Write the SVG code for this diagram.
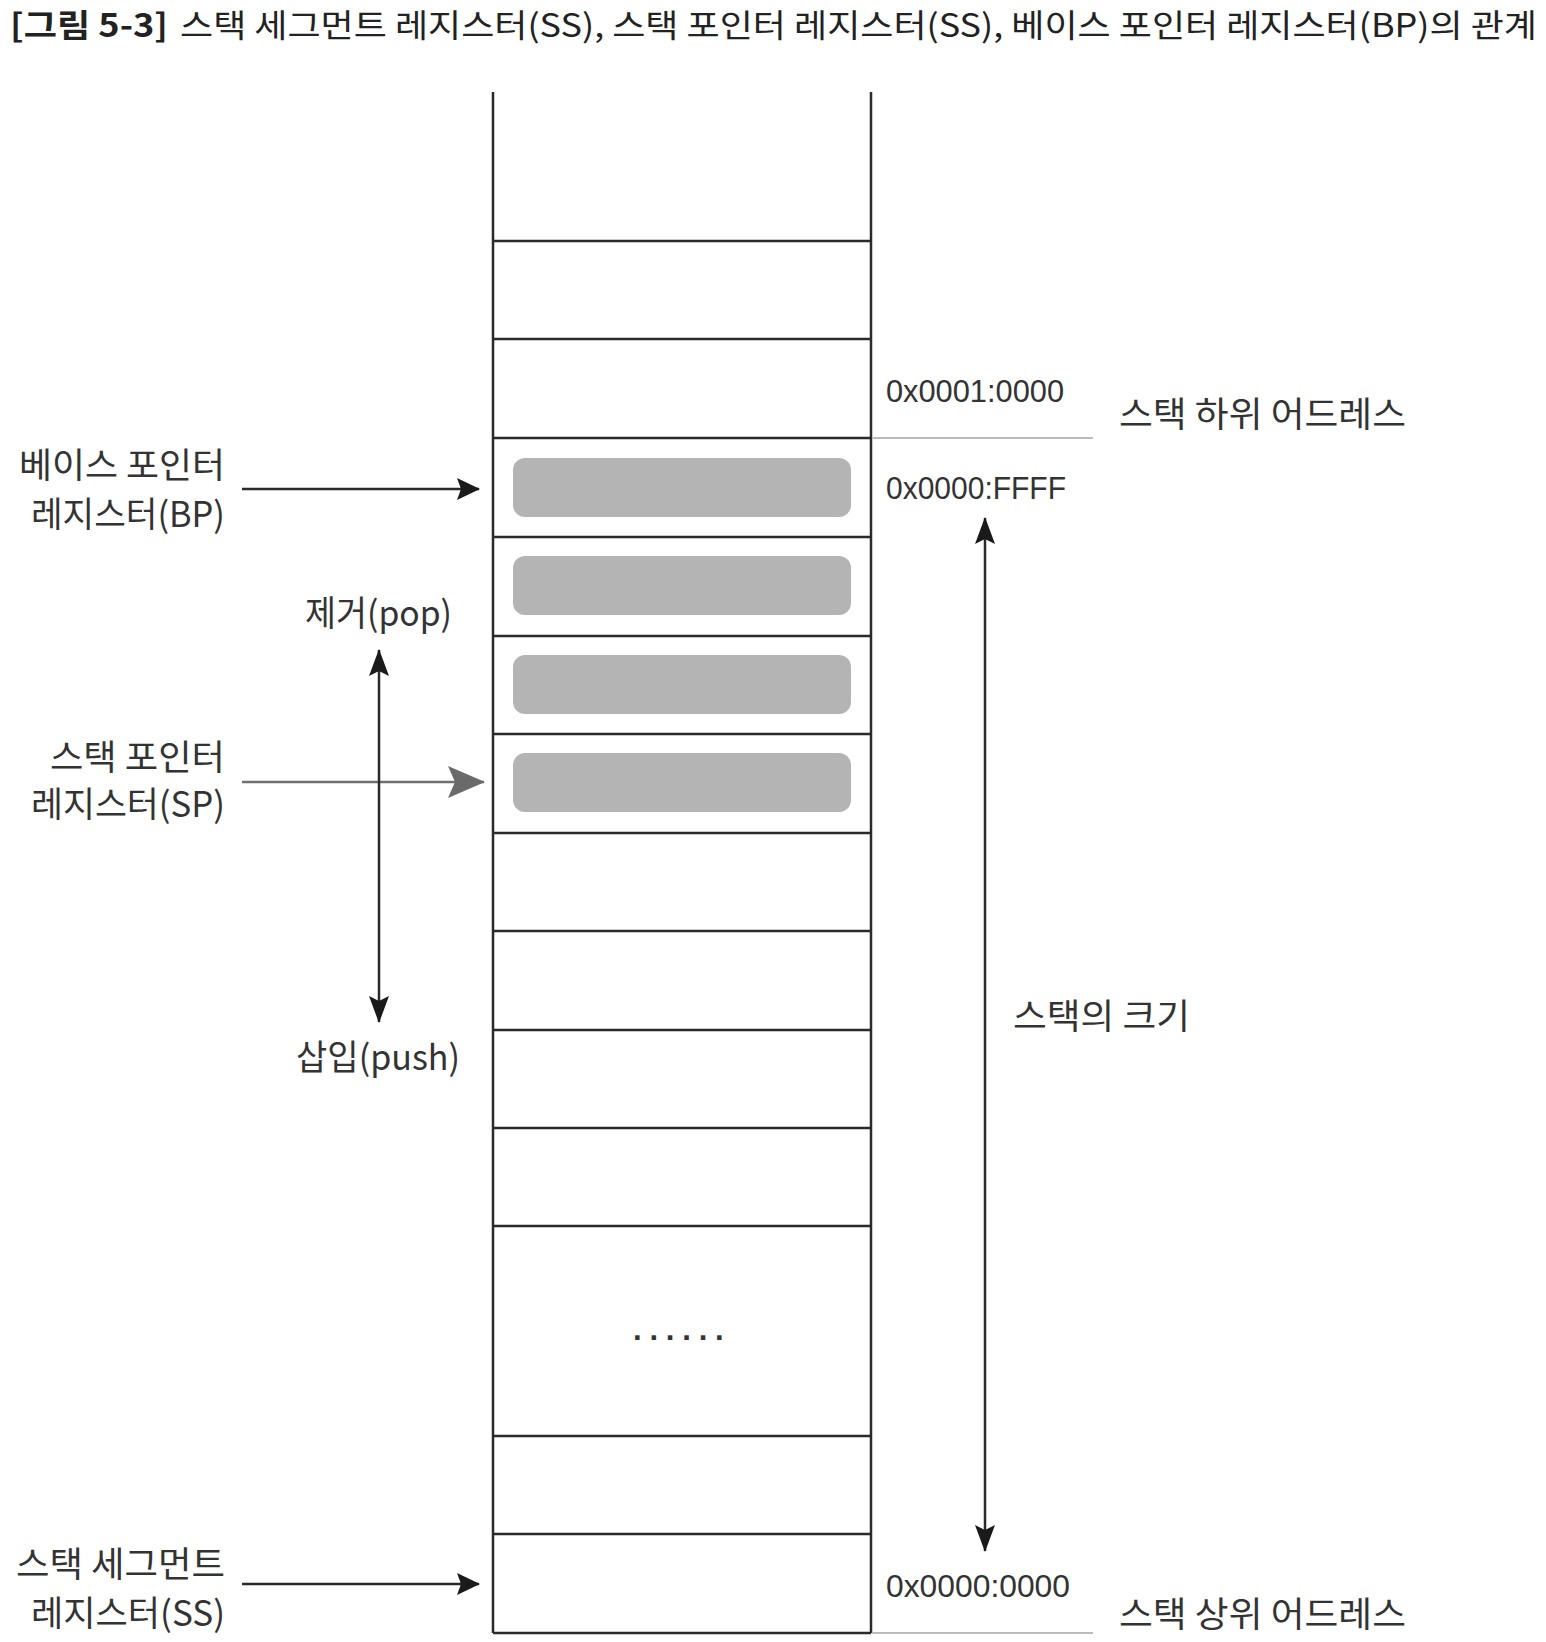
<svg xmlns="http://www.w3.org/2000/svg" width="1546" height="1642" viewBox="0 0 1546 1642">
<defs>
<style>
.t{font-family:"Noto Sans CJK KR","Liberation Sans",sans-serif;font-size:35px;fill:#333;}
.a{font-family:"Liberation Sans","Noto Sans CJK KR",sans-serif;font-size:31px;fill:#333;}
.ttl{font-family:"Noto Sans CJK KR","Liberation Sans",sans-serif;font-size:32px;fill:#222;}
.cell{fill:none;stroke:#2a2a2a;stroke-width:2.5;}
.bar{fill:#b4b4b4;}
.ln{stroke:#2a2a2a;stroke-width:2.5;fill:none;}
.lg{stroke:#bbbbbb;stroke-width:2;fill:none;}
</style>
<marker id="ah" viewBox="0 0 23 22" refX="22" refY="11" markerWidth="23" markerHeight="22" markerUnits="userSpaceOnUse" orient="auto">
<path d="M0,0 L23,11 L0,22 L4,11 Z" fill="#1a1a1a"/>
</marker>
<marker id="av" viewBox="0 0 27 20" refX="26" refY="10" markerWidth="27" markerHeight="20" markerUnits="userSpaceOnUse" orient="auto-start-reverse">
<path d="M0,0 L27,10 L0,20 L5,10 Z" fill="#1a1a1a"/>
</marker>
<marker id="ahg" viewBox="0 0 37 32" refX="36" refY="16" markerWidth="37" markerHeight="32" markerUnits="userSpaceOnUse" orient="auto">
<path d="M0,0 L37,16 L0,32 L7,16 Z" fill="#6a6a6a"/>
</marker>
</defs>
<rect width="1546" height="1642" fill="#fff"/>

<g id="title">
<text class="ttl" x="10" y="37" font-weight="bold" textLength="158" lengthAdjust="spacingAndGlyphs">[그림 5-3]</text>
<text class="ttl" x="180" y="37" textLength="1357" lengthAdjust="spacingAndGlyphs">스택 세그먼트 레지스터(SS), 스택 포인터 레지스터(SS), 베이스 포인터 레지스터(BP)의 관계</text>
</g>

<g id="stack">
<line class="cell" x1="493" y1="92" x2="493" y2="1633"/>
<line class="cell" x1="871" y1="92" x2="871" y2="1633"/>
<line class="cell" x1="493" y1="241" x2="871" y2="241"/>
<line class="cell" x1="493" y1="339" x2="871" y2="339"/>
<line class="cell" x1="493" y1="438" x2="871" y2="438"/>
<line class="cell" x1="493" y1="537" x2="871" y2="537"/>
<line class="cell" x1="493" y1="636" x2="871" y2="636"/>
<line class="cell" x1="493" y1="734" x2="871" y2="734"/>
<line class="cell" x1="493" y1="833" x2="871" y2="833"/>
<line class="cell" x1="493" y1="931" x2="871" y2="931"/>
<line class="cell" x1="493" y1="1030" x2="871" y2="1030"/>
<line class="cell" x1="493" y1="1128" x2="871" y2="1128"/>
<line class="cell" x1="493" y1="1226" x2="871" y2="1226"/>
<line class="cell" x1="493" y1="1436" x2="871" y2="1436"/>
<line class="cell" x1="493" y1="1534" x2="871" y2="1534"/>
<line class="cell" x1="493" y1="1633" x2="871" y2="1633"/>
<rect class="bar" x="513" y="458" width="338" height="59" rx="12"/>
<rect class="bar" x="513" y="556" width="338" height="59" rx="12"/>
<rect class="bar" x="513" y="655" width="338" height="59" rx="12"/>
<rect class="bar" x="513" y="753" width="338" height="59" rx="12"/>
<text class="a" x="633" y="1340" font-size="36" font-weight="bold" letter-spacing="7.8">......</text>
<line class="lg" x1="872" y1="438" x2="1093" y2="438"/>
<line class="lg" x1="872" y1="1633" x2="1093" y2="1633"/>
</g>

<g id="connectors">
<line class="ln" x1="242" y1="489" x2="479" y2="489" marker-end="url(#ah)"/>
<line x1="242" y1="782" x2="484" y2="782" stroke="#6f6f6f" stroke-width="2.5" marker-end="url(#ahg)"/>
<line class="ln" x1="242" y1="1584" x2="479" y2="1584" marker-end="url(#ah)"/>
<line class="ln" x1="379" y1="650" x2="379" y2="1022" marker-start="url(#av)" marker-end="url(#av)"/>
<line class="ln" x1="985" y1="518" x2="985" y2="1551" marker-start="url(#av)" marker-end="url(#av)"/>
</g>

<g id="bp-label">
<text class="t" x="225" y="478" text-anchor="end" textLength="206" lengthAdjust="spacingAndGlyphs">베이스 포인터</text>
<text class="t" x="225" y="527" text-anchor="end" textLength="194" lengthAdjust="spacingAndGlyphs">레지스터(BP)</text>
</g>
<g id="sp-label">
<text class="t" x="225" y="770" text-anchor="end" textLength="175" lengthAdjust="spacingAndGlyphs">스택 포인터</text>
<text class="t" x="225" y="817" text-anchor="end" textLength="194" lengthAdjust="spacingAndGlyphs">레지스터(SP)</text>
</g>
<g id="ss-label">
<text class="t" x="225" y="1577" text-anchor="end" textLength="209" lengthAdjust="spacingAndGlyphs">스택 세그먼트</text>
<text class="t" x="225" y="1626" text-anchor="end" textLength="194" lengthAdjust="spacingAndGlyphs">레지스터(SS)</text>
</g>
<g id="pop-label">
<text class="t" x="305" y="626" textLength="147" lengthAdjust="spacingAndGlyphs">제거(pop)</text>
</g>
<g id="push-label">
<text class="t" x="296" y="1070" textLength="164" lengthAdjust="spacingAndGlyphs">삽입(push)</text>
</g>
<g id="size-label">
<text class="t" x="1013" y="1029" textLength="177" lengthAdjust="spacingAndGlyphs">스택의 크기</text>
</g>
<g id="addresses">
<text class="a" x="886" y="402" textLength="178" lengthAdjust="spacingAndGlyphs">0x0001:0000</text>
<text class="a" x="886" y="499" textLength="180" lengthAdjust="spacingAndGlyphs">0x0000:FFFF</text>
<text class="a" x="886" y="1597" textLength="184" lengthAdjust="spacingAndGlyphs">0x0000:0000</text>
<text class="t" x="1119" y="427" textLength="287" lengthAdjust="spacingAndGlyphs">스택 하위 어드레스</text>
<text class="t" x="1119" y="1627" textLength="287" lengthAdjust="spacingAndGlyphs">스택 상위 어드레스</text>
</g>
</svg>
